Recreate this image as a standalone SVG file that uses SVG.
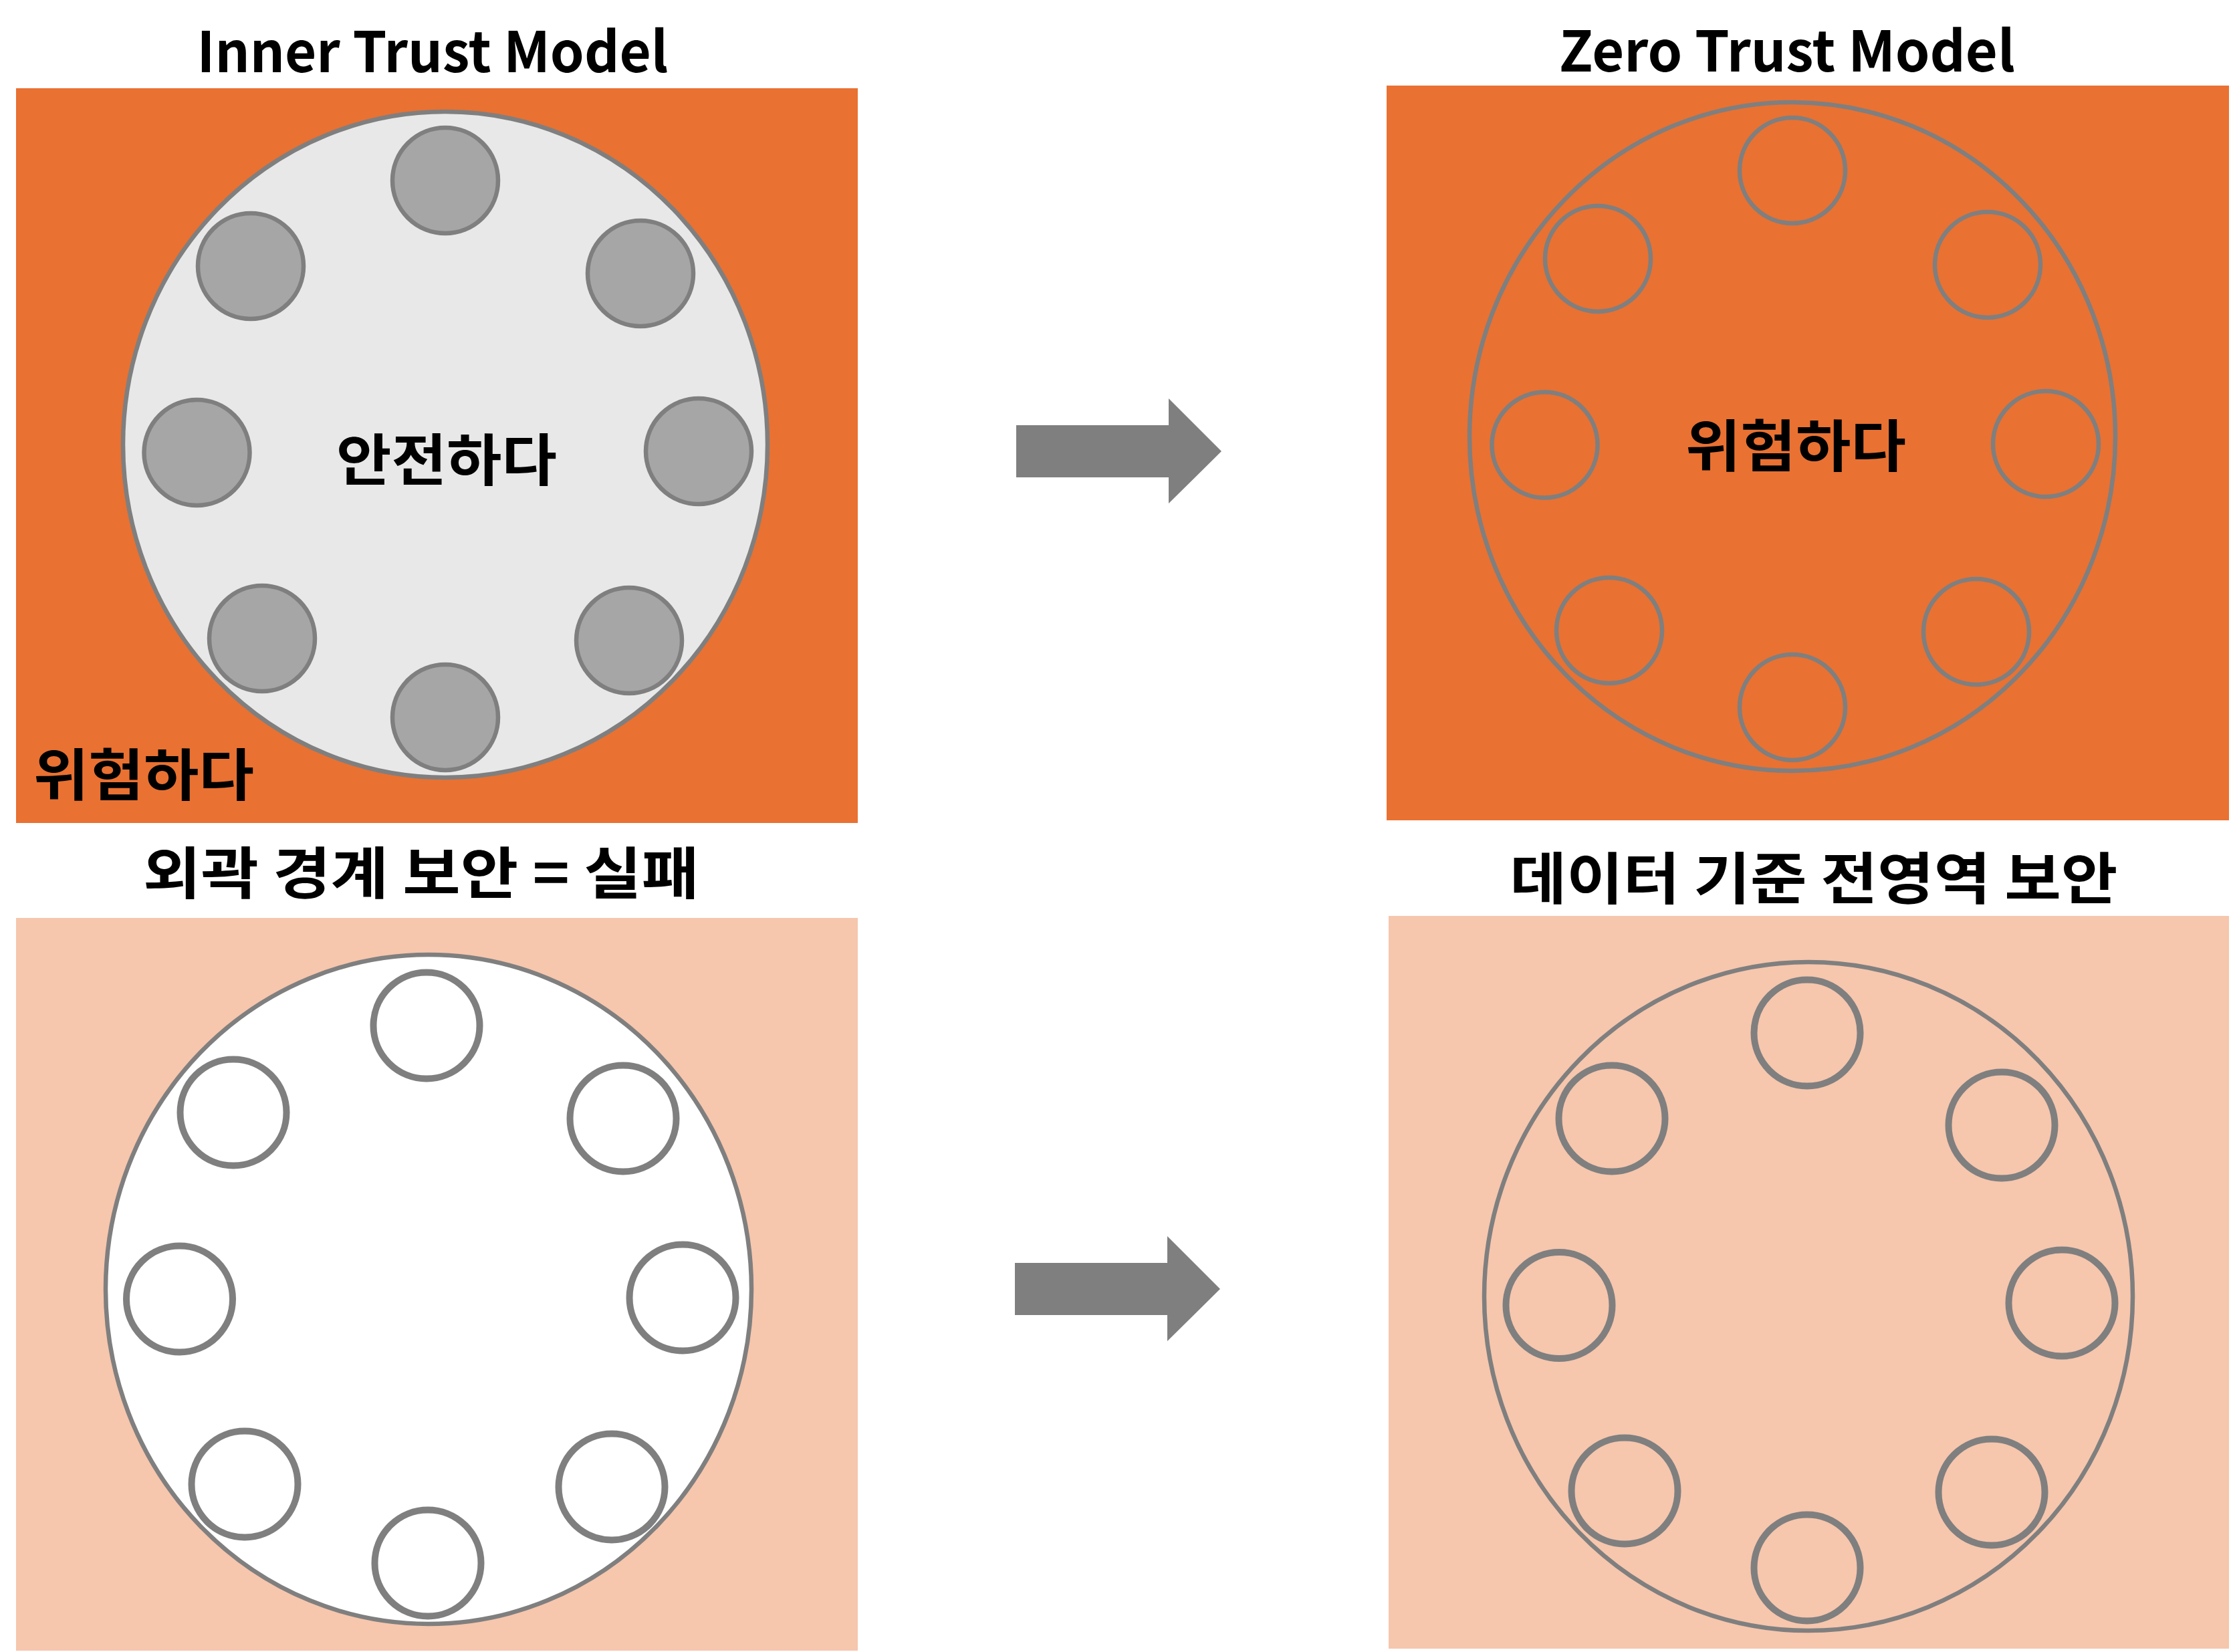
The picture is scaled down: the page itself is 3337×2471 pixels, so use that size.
<svg xmlns="http://www.w3.org/2000/svg" width="3337" height="2471" viewBox="0 0 3337 2471">
<style>
.orange{fill:#E97132}
.light{fill:#F6C6AD}
.big{stroke:#7F7F7F;stroke-width:6.5}
.sm{stroke:#7F7F7F;stroke-width:6.5}
.smb{stroke:#7F7F7F;stroke-width:10}
.t{font-family:"Noto Sans CJK KR","Noto Sans",sans-serif;font-weight:bold;font-size:84px;fill:#000;text-anchor:middle}
.arrow{fill:#7F7F7F}
</style>
<rect width="3337" height="2471" fill="#fff"/>
<g id="panel-inner-trust">
<text class="t" x="647" y="108" textLength="705" lengthAdjust="spacingAndGlyphs">Inner Trust Model</text>
<rect class="orange" x="24" y="132" width="1259" height="1099"/>
<ellipse class="big" cx="666" cy="665" rx="482" ry="498" fill="#E8E8E8"/>
<g fill="#A6A6A6" class="sm">
<circle cx="666" cy="270" r="79"/>
<circle cx="375" cy="398" r="79"/>
<circle cx="958" cy="409" r="79"/>
<circle cx="294.5" cy="677" r="79"/>
<circle cx="1045" cy="675" r="79"/>
<circle cx="392" cy="955" r="79"/>
<circle cx="941" cy="958" r="79"/>
<circle cx="666" cy="1073" r="79"/>
</g>
<text class="t" x="668" y="719" textLength="330" lengthAdjust="spacingAndGlyphs">안전하다</text>
<text class="t" x="215" y="1190" textLength="330" lengthAdjust="spacingAndGlyphs">위험하다</text>
</g>
<g id="panel-zero-trust">
<text class="t" x="2673" y="107" textLength="682" lengthAdjust="spacingAndGlyphs">Zero Trust Model</text>
<rect class="orange" x="2074" y="128" width="1260" height="1099"/>
<ellipse class="big" cx="2681" cy="653" rx="483" ry="500" fill="none"/>
<g fill="none" class="sm">
<circle cx="2681" cy="255" r="79"/>
<circle cx="2390" cy="387" r="79"/>
<circle cx="2973" cy="396" r="79"/>
<circle cx="2310.5" cy="665.5" r="79"/>
<circle cx="3060" cy="664" r="79"/>
<circle cx="2407" cy="943" r="79"/>
<circle cx="2956" cy="945" r="79"/>
<circle cx="2681" cy="1058" r="79"/>
</g>
<text class="t" x="2686" y="698" textLength="330" lengthAdjust="spacingAndGlyphs">위험하다</text>
</g>
<g id="panel-perimeter">
<text class="t" x="630" y="1337" textLength="832" lengthAdjust="spacingAndGlyphs">외곽 경계 보안 = 실패</text>
<rect class="light" x="24" y="1373" width="1259" height="1096"/>
<ellipse class="big" cx="641" cy="1928.5" rx="483" ry="500.5" fill="#fff"/>
<g fill="#fff" class="smb">
<circle cx="638" cy="1534" r="79.5"/>
<circle cx="349" cy="1664" r="79.5"/>
<circle cx="932" cy="1673" r="79.5"/>
<circle cx="268.5" cy="1943" r="79.5"/>
<circle cx="1021" cy="1941" r="79.5"/>
<circle cx="366" cy="2220" r="79.5"/>
<circle cx="915" cy="2224" r="79.5"/>
<circle cx="640" cy="2338" r="79.5"/>
</g>
</g>
<g id="panel-data-centric">
<text class="t" x="2713" y="1345" textLength="909" lengthAdjust="spacingAndGlyphs">데이터 기준 전영역 보안</text>
<rect class="light" x="2077" y="1370" width="1257" height="1096"/>
<ellipse class="big" cx="2705" cy="1939" rx="485" ry="500" fill="none"/>
<g fill="none" class="smb">
<circle cx="2703" cy="1545" r="79.5"/>
<circle cx="2411" cy="1673" r="79.5"/>
<circle cx="2994" cy="1683" r="79.5"/>
<circle cx="2332" cy="1952.5" r="79.5"/>
<circle cx="3084" cy="1949" r="79.5"/>
<circle cx="2430" cy="2230" r="79.5"/>
<circle cx="2979" cy="2232" r="79.5"/>
<circle cx="2703" cy="2345" r="79.5"/>
</g>
</g>
<g id="connectors">
<polygon class="arrow" points="1520,636 1748,636 1748,596 1827,675 1748,753 1748,714 1520,714"/>
<polygon class="arrow" points="1518,1889 1746,1889 1746,1849 1825,1928 1746,2006 1746,1967 1518,1967"/>
</g>
</svg>
